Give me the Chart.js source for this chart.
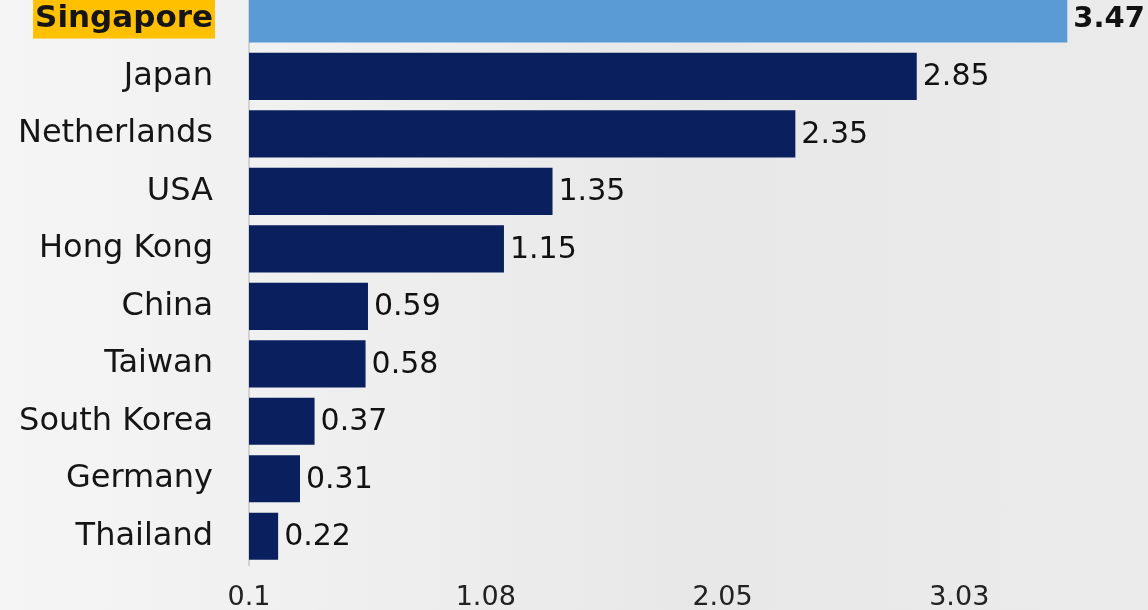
<!DOCTYPE html>
<html>
<head>
<meta charset="utf-8">
<script src="https://cdn.jsdelivr.net/npm/chart.js@4/dist/chart.umd.min.js"></script>
<style>
  html, body { margin: 0; padding: 0; }
  body {
    width: 1148px; height: 610px; overflow: hidden; position: relative;
    background: linear-gradient(90deg, #f5f5f5 0%, #efefef 30%, #e8e8e8 60%, #ebebeb 100%);
  }
  #wrap { position: absolute; left: 0; top: -57px; width: 1196px; height: 697px; }
</style>
</head>
<body>
<div id="wrap"><canvas id="chart"></canvas></div>
<script>
const countries = ['Singapore', 'Japan', 'Netherlands', 'USA', 'Hong Kong', 'China', 'Taiwan', 'South Korea', 'Germany', 'Thailand'];
const values = [3.47, 2.85, 2.35, 1.35, 1.15, 0.59, 0.58, 0.37, 0.31, 0.22];
const tickValues = [0.1, 1.075, 2.05, 3.025];
const tickLabels = ['0.1', '1.08', '2.05', '3.03'];

const FONT = '"DejaVu Sans", sans-serif';
const NAVY = '#0a1f5e';
const HIGHLIGHT = '#5b9bd5';

const valueLabels = {
  id: 'valueLabels',
  afterDatasetsDraw(chart) {
    const ctx = chart.ctx;
    const meta = chart.getDatasetMeta(0);
    ctx.save();
    ctx.textBaseline = 'middle';
    ctx.textAlign = 'left';
    ctx.fillStyle = '#111';
    meta.data.forEach((bar, i) => {
      ctx.font = i === 0 ? `bold 29px ${FONT}` : `30px ${FONT}`;
      ctx.fillText(values[i].toFixed(2), bar.x + 6, bar.y + 1);
    });
    ctx.restore();
  },
};

new Chart(document.getElementById('chart'), {
  type: 'bar',
  data: {
    labels: countries,
    datasets: [{
      data: values,
      base: 0.1,
      backgroundColor: countries.map((c, i) => (i === 0 ? HIGHLIGHT : NAVY)),
      categoryPercentage: 1,
      barPercentage: 0.82,
    }],
  },
  options: {
    indexAxis: 'y',
    responsive: true,
    maintainAspectRatio: false,
    animation: false,
    layout: { padding: 0 },
    plugins: { legend: { display: false }, tooltip: { enabled: false } },
    scales: {
      x: {
        min: 0.1,
        max: 4.0,
        afterBuildTicks: (axis) => { axis.ticks = tickValues.map((v) => ({ value: v })); },
        afterFit: (axis) => { axis.height = 75; },
        grid: { display: false },
        border: { display: false },
        ticks: {
          padding: 9,
          color: '#222',
          font: { family: FONT, size: 27 },
          maxRotation: 0,
          callback: (v, i) => tickLabels[i],
        },
      },
      y: {
        afterFit: (axis) => { axis.width = 249; },
        grid: { display: false },
        border: { display: true, color: '#d2d2d2', width: 2 },
        ticks: {
          padding: 28,
          color: '#151515',
          font: (c) => (c.index === 0
            ? { family: FONT, size: 31, weight: 'bold' }
            : { family: FONT, size: 32 }),
          showLabelBackdrop: (c) => c.index === 0,
          backdropColor: '#ffc000',
          backdropPadding: { left: 2, right: 2, top: 1, bottom: 1 },
        },
      },
    },
  },
  plugins: [valueLabels],
});
</script>
</body>
</html>
